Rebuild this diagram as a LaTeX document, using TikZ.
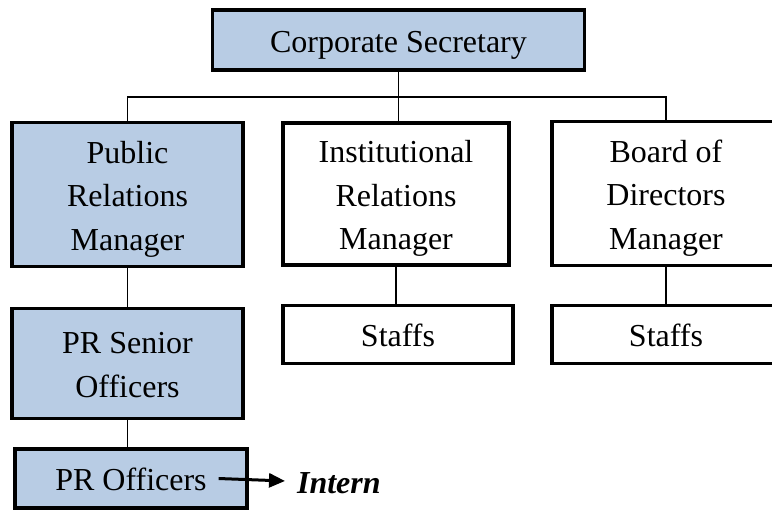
\documentclass[tikz,border=0pt]{standalone}
\usepackage{fontspec}
\setmainfont{Liberation Serif}
\usetikzlibrary{arrows.meta}
\definecolor{unitblue}{HTML}{B8CCE4}
\tikzset{unit/.style={draw, line width=1.6pt, fill=unitblue, align=flush center,
        text width=100pt, font=\fontsize{16}{21.75}\selectfont,
        execute at begin node={\rule{0pt}{15.5pt}},
        execute at end node={\rule[-3.5pt]{0pt}{0pt}}},
    staff/.style={unit, fill=white},
    link/.style={line width=0.6pt},
    }

\begin{document}
\begin{tikzpicture}[x=0.5pt,y=-0.5pt]
	\clip (0,0) rectangle (772,510);
	% head of the division
	\node[unit, text width=170pt, minimum width=186pt, minimum height=30pt] (cs) at (398.5,40) {Corporate Secretary};
	% managers
	\node[unit, minimum width=115.5pt, minimum height=72pt] (pr) at (127.5,194.5) {Public\\Relations\\Manager};
	\node[staff, minimum width=113pt, minimum height=71pt] (ir) at (396,194) {Institutional\\Relations\\Manager};
	\node[staff, minimum width=114pt, minimum height=72pt] (bd) at (666,193.5) {Board of\\Directors\\Manager};
	% officers and staffs
	\node[unit, minimum width=115.5pt, minimum height=55pt] (prs) at (127.5,363.5) {PR Senior\\Officers};
	\node[unit, minimum width=116pt, minimum height=29.5pt] (pro) at (131,478.5) {PR Officers};
	\node[staff, minimum width=115pt, minimum height=29pt] (irs) at (398,334.5) {Staffs};
	\node[staff, minimum width=114pt, minimum height=29pt] (bds) at (666,334.5) {Staffs};
	\node[font=\fontsize{16}{21.75}\selectfont\bfseries\itshape, anchor=west] (intern) at (290,483) {Intern};
	% lines
	\coordinate (bar) at (398.5,97);
	\draw[link] (cs.south) -- (cs.south |- ir.north);
	\draw[link] (pr.north) |- (bar) -| (bd.north);
	\draw[link] (pr) -- (prs);
	\draw[link] (prs.south) -- (prs.south |- pro.north);
	\draw[link] (ir.south) -- (ir.south |- irs.north);
	\draw[link] (bd) -- (bds);
	\draw[line width=1.5pt, -{Triangle[length=8pt,width=7pt]}, shorten >=2.5pt] ([xshift=-15pt]pro.east) -- (intern);
\end{tikzpicture}
\end{document}
